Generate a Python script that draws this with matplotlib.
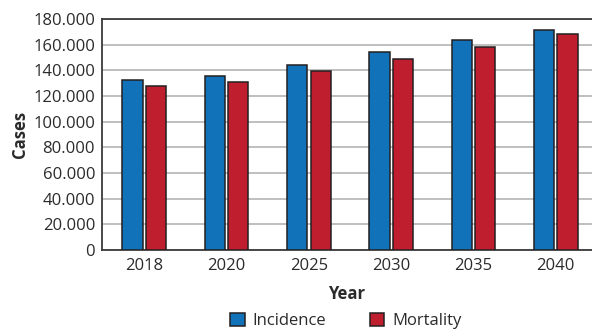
import matplotlib
matplotlib.use('Agg')
import numpy as np
import matplotlib.pyplot as plt
from matplotlib.ticker import FuncFormatter, MultipleLocator

# data
years = ['2018', '2020', '2025', '2030', '2035', '2040']
incidence = [132200, 135600, 144000, 154000, 163300, 171300]
mortality = [128000, 131200, 139300, 148900, 157800, 168000]

blue = '#1172ba'
red = '#be1e2d'
edge = '#231f20'
txt = '#2b2b2b'

plt.rcParams['font.family'] = ['Open Sans', 'DejaVu Sans']

fig = plt.figure(figsize=(5.92, 3.32), dpi=100)
ax = fig.add_axes([102 / 592, 1 - 250 / 332, 490 / 592, 231 / 332])

x = np.arange(len(years))
w = 0.245
off = 0.143
ax.bar(x - off, incidence, w, color=blue, edgecolor=edge, linewidth=1.1, label='Incidence', zorder=3)
ax.bar(x + off, mortality, w, color=red, edgecolor=edge, linewidth=1.1, label='Mortality', zorder=3)

ax.set_xlim(-0.514, 5.44)
ax.set_ylim(0, 180000)
ax.yaxis.set_major_locator(MultipleLocator(20000))
ax.yaxis.set_major_formatter(FuncFormatter(lambda v, p: f'{v:,.0f}'.replace(',', '.')))
ax.set_xticks(x)
ax.set_xticklabels(years)
ax.tick_params(axis='both', length=0, labelsize=12, colors=txt, pad=6)
ax.tick_params(axis='y', pad=5)
ax.grid(axis='y', color='#b4b4b4', linewidth=1.2, zorder=0)

for s in ['left', 'bottom', 'top']:
    ax.spines[s].set_color('#3a3a3a')
    ax.spines[s].set_linewidth(1.3)
ax.spines['right'].set_visible(False)

ax.set_ylabel('Cases', fontsize=12, fontweight='bold', color=txt, labelpad=3)
ax.set_xlabel('Year', fontsize=12, fontweight='bold', color=txt, labelpad=8)

fig.legend(loc='center', bbox_to_anchor=(346 / 592, 1 - 321 / 332), ncol=2, frameon=False,
           fontsize=12, handlelength=0.85, handleheight=0.85, columnspacing=2.6, handletextpad=0.5,
           labelcolor=txt)

fig.savefig('out.png', dpi=100)
